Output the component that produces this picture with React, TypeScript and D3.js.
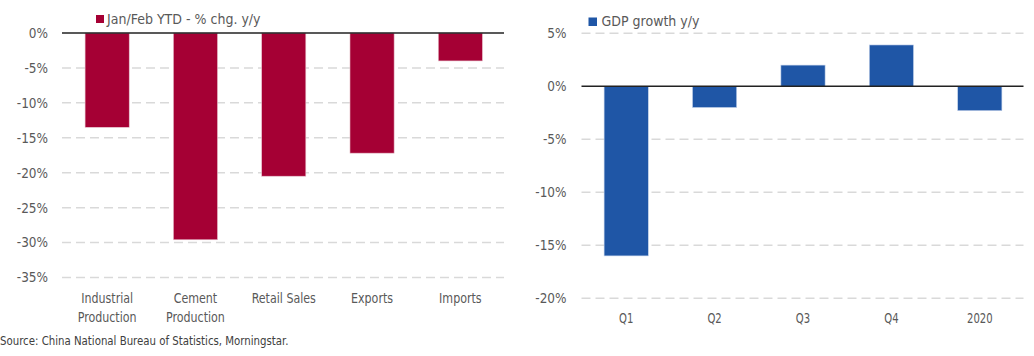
import React from "react";
import * as d3 from "d3";

const leftCategories = [["Industrial", "Production"], ["Cement", "Production"], ["Retail Sales"], ["Exports"], ["Imports"]];
const leftValues = [-13.5, -29.6, -20.5, -17.2, -4.0];
const leftTicks = [0, -5, -10, -15, -20, -25, -30, -35];
const leftLegend = "Jan/Feb YTD - % chg. y/y";

const rightCategories = ["Q1", "Q2", "Q3", "Q4", "2020"];
const rightValues = [-16.0, -2.0, 2.0, 3.9, -2.3];
const rightTicks = [5, 0, -5, -10, -15, -20];
const rightLegend = "GDP growth y/y";

const sourceText = "Source: China National Bureau of Statistics, Morningstar.";

const FONT = "'Liberation Sans Narrow', 'DejaVu Sans Condensed', 'Roboto', sans-serif";
const TEXT = "#595959";
const GRID = "#d9d9d9";

function SText({ x, y, sx = 1, anchor = "start", size = 14, fill = TEXT, children }: any) {
  return (
    <g transform={`translate(${x},${y}) scale(${sx},1)`}>
      <text x={0} y={0} dy="0.35em" textAnchor={anchor} fontSize={size} fill={fill}>
        {children}
      </text>
    </g>
  );
}

export default function App() {
  const leftKeys = leftCategories.map((c) => c.join(" "));
  const lx = d3.scaleBand<string>().domain(leftKeys).range([63, 504.5]).paddingInner(0.5).paddingOuter(0.25);
  const ly = d3.scaleLinear().domain([-35, 0]).range([277.5, 33]);

  const rx = d3.scaleBand<string>().domain(rightCategories).range([582, 1024]).paddingInner(0.5).paddingOuter(0.25);
  const ry = d3.scaleLinear().domain([-20, 5]).range([298.3, 33.3]);

  return (
    <svg width={1034} height={356} style={{ position: "absolute", left: 0, top: 0 }} fontFamily={FONT}>
      <rect width={1034} height={356} fill="#fff" />
      {/* Left chart */}
      <g>
        {leftTicks.map((t) => (
          <g key={t}>
            {t !== 0 && (
              <line x1={62} x2={504} y1={ly(t)} y2={ly(t)} stroke={GRID} strokeWidth={1.5} strokeDasharray="9,5" />
            )}
            <SText x={48} y={ly(t)} anchor="end" sx={0.96}>
              {t}%
            </SText>
          </g>
        ))}
        {leftValues.map((v, i) => (
          <rect
            key={i}
            x={lx(leftKeys[i])}
            width={lx.bandwidth()}
            y={ly(Math.max(0, v))}
            height={Math.abs(ly(v) - ly(0))}
            fill="#A50034"
            stroke="#e8c4cf"
            strokeWidth={0.6}
          />
        ))}
        <line x1={62} x2={504} y1={ly(0)} y2={ly(0)} stroke="#222" strokeWidth={1.5} />
        {leftCategories.map((lines, i) =>
          lines.map((l, j) => (
            <SText key={i + "-" + j} x={lx(leftKeys[i])! + lx.bandwidth() / 2} y={298 + j * 19.5} anchor="middle" sx={0.88}>
              {l}
            </SText>
          ))
        )}
        <rect x={96} y={15} width={8} height={8} fill="#A50034" />
        <SText x={107} y={19.5}>
          {leftLegend}
        </SText>
      </g>
      {/* Right chart */}
      <g>
        {rightTicks.map((t) => (
          <g key={t}>
            {t !== 0 && (
              <line x1={581.5} x2={1023.5} y1={ry(t)} y2={ry(t)} stroke={GRID} strokeWidth={1.5} strokeDasharray="9,5" />
            )}
            <SText x={566.5} y={ry(t)} anchor="end" sx={0.96}>
              {t}%
            </SText>
          </g>
        ))}
        {rightValues.map((v, i) => (
          <rect
            key={i}
            x={rx(rightCategories[i])}
            width={rx.bandwidth()}
            y={ry(Math.max(0, v))}
            height={Math.abs(ry(v) - ry(0))}
            fill="#1F56A6"
            stroke="#c3d2ea"
            strokeWidth={0.6}
          />
        ))}
        <line x1={581.5} x2={1023.5} y1={ry(0)} y2={ry(0)} stroke="#222" strokeWidth={1.5} />
        {rightCategories.map((c) => (
          <SText key={c} x={rx(c)! + rx.bandwidth() / 2} y={318.3} anchor="middle" sx={0.8}>
            {c}
          </SText>
        ))}
        <rect x={588.5} y={17.5} width={8.5} height={8.5} fill="#1F56A6" />
        <SText x={601.5} y={21.5}>
          {rightLegend}
        </SText>
      </g>
      <SText x={0} y={341} size={12} fill="#404040" sx={0.945}>
        {sourceText}
      </SText>
    </svg>
  );
}
